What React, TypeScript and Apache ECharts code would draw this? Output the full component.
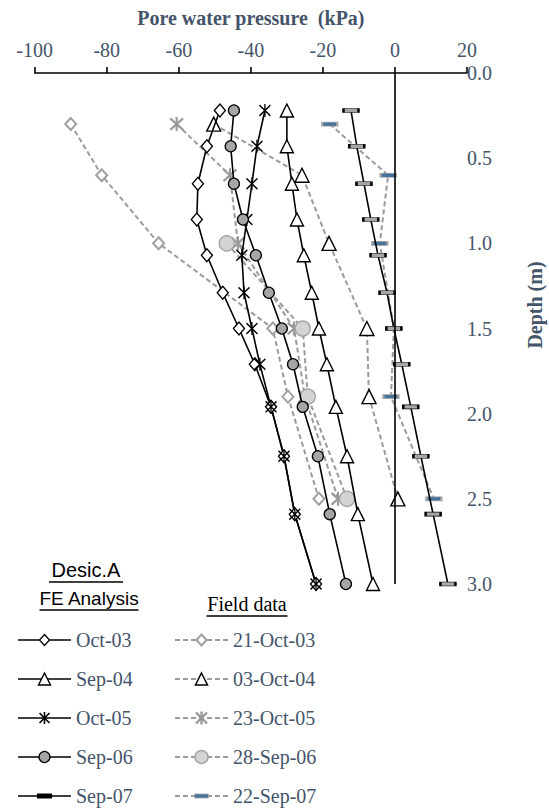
import React, { useEffect, useRef } from "react";
import * as echarts from "echarts";

// FE analysis (Desic.A) depths and pore water pressures (kPa)
const feDepths = [0.22, 0.43, 0.65, 0.86, 1.07, 1.29, 1.5, 1.71, 1.96, 2.25, 2.59, 3.0];
const feOct03 = [-48.6, -52.2, -54.7, -55.0, -52.2, -47.8, -43.3, -38.9, -34.4, -30.8, -27.8, -21.9];
const feSep04 = [-30.0, -30.0, -28.6, -27.2, -25.3, -23.1, -21.1, -18.9, -16.4, -13.3, -10.3, -6.1];
const feOct05 = [-36.1, -38.3, -39.7, -41.1, -42.5, -41.9, -39.7, -37.5, -34.4, -30.8, -27.8, -21.9];
const feSep06 = [-44.7, -45.6, -44.7, -42.2, -38.6, -35.0, -31.4, -28.3, -25.6, -21.4, -18.1, -13.6];
const feSep07 = [-12.2, -10.6, -8.6, -6.7, -4.7, -2.2, -0.3, 1.9, 4.4, 7.2, 10.6, 14.7];

// Field data
const fieldDepths = [0.3, 0.6, 1.0, 1.5, 1.9, 2.5];
const field21Oct03 = [-90.0, -81.4, -65.6, -33.9, -29.7, -21.1];
const field03Oct04 = [-50.3, -25.8, -18.3, -7.8, -7.2, 0.8];
const field23Oct05 = [-60.6, -45.8, -43.6, -28.0, -25.0, -15.8];
const field28Sep06 = [null, null, -46.7, -25.6, -24.2, -13.3];
const field22Sep07 = [-18.1, -1.9, -4.2, -0.3, -1.1, 10.8];

const xTicks = [-100, -80, -60, -40, -20, 0, 20];

const feNames = ["Oct-03", "Sep-04", "Oct-05", "Sep-06", "Sep-07"];
const fieldNames = ["21-Oct-03", "03-Oct-04", "23-Oct-05", "28-Sep-06", "22-Sep-07"];

const TEXT = "#44546A";
const DASH_GRAY = "#9b9b9b";
const SERIF = '"Liberation Serif", "Times New Roman", serif';

const starPath = "path://M0,1L10,11M0,11L10,1M5,0L5,12";

function pairs(xs: (number | null)[], ys: number[]) {
  const out: number[][] = [];
  xs.forEach((x, i) => {
    if (x !== null && x !== undefined) out.push([x, ys[i]]);
  });
  return out;
}

type MarkerKind = "diamond" | "triangle" | "star" | "circle" | "dash";
interface MarkerSpec {
  kind: MarkerKind;
  fill: string;
  stroke: string;
  strokeWidth: number;
  size: number | number[];
}

const feMarkers: MarkerSpec[] = [
  { kind: "diamond", fill: "#ffffff", stroke: "#000000", strokeWidth: 1.4, size: [11, 13] },
  { kind: "triangle", fill: "#ffffff", stroke: "#000000", strokeWidth: 1.4, size: [13, 13] },
  { kind: "star", fill: "none", stroke: "#000000", strokeWidth: 1.4, size: [11, 13] },
  { kind: "circle", fill: "#a6a6a6", stroke: "#000000", strokeWidth: 1.3, size: 11 },
  { kind: "dash", fill: "#a6a6a6", stroke: "#000000", strokeWidth: 1.3, size: [15, 4] },
];
const fieldMarkers: MarkerSpec[] = [
  { kind: "diamond", fill: "#ffffff", stroke: "#a0a0a0", strokeWidth: 2, size: [11, 12] },
  { kind: "triangle", fill: "#ffffff", stroke: "#000000", strokeWidth: 1.4, size: [14, 14] },
  { kind: "star", fill: "none", stroke: "#9a9a9a", strokeWidth: 2.2, size: [13, 14] },
  { kind: "circle", fill: "#d4d4d4", stroke: "#a6a6a6", strokeWidth: 1.5, size: 15 },
  { kind: "dash", fill: "#44729b", stroke: "#a6a6a6", strokeWidth: 1.2, size: [15, 4] },
];

// smaller marker versions for the legend
const feLegendMarkers: MarkerSpec[] = [
  { kind: "diamond", fill: "#ffffff", stroke: "#000000", strokeWidth: 1.3, size: [10, 11] },
  { kind: "triangle", fill: "#ffffff", stroke: "#000000", strokeWidth: 1.4, size: [12, 12] },
  { kind: "star", fill: "none", stroke: "#000000", strokeWidth: 1.6, size: [10, 12] },
  { kind: "circle", fill: "#a6a6a6", stroke: "#000000", strokeWidth: 1.3, size: 11 },
  { kind: "dash", fill: "#000000", stroke: "#000000", strokeWidth: 1.2, size: [14, 4] },
];
const fieldLegendMarkers: MarkerSpec[] = [
  { kind: "diamond", fill: "#ffffff", stroke: "#a0a0a0", strokeWidth: 2, size: [10, 11] },
  { kind: "triangle", fill: "#ffffff", stroke: "#000000", strokeWidth: 1.5, size: [12, 12] },
  { kind: "star", fill: "none", stroke: "#9a9a9a", strokeWidth: 2.4, size: [11, 13] },
  { kind: "circle", fill: "#d4d4d4", stroke: "#a6a6a6", strokeWidth: 1.5, size: 13 },
  { kind: "dash", fill: "#44729b", stroke: "#a6a6a6", strokeWidth: 1, size: [14, 4] },
];

function symbolOf(k: MarkerKind) {
  if (k === "star") return starPath;
  if (k === "dash") return "rect";
  return k;
}

function legendMarker(m: MarkerSpec, cx: number, cy: number): any {
  const w = Array.isArray(m.size) ? m.size[0] : m.size;
  const h = Array.isArray(m.size) ? m.size[1] : m.size;
  const style = { fill: m.fill, stroke: m.stroke, lineWidth: m.strokeWidth };
  if (m.kind === "diamond") {
    return { type: "polygon", shape: { points: [[cx, cy - h / 2], [cx + w / 2, cy], [cx, cy + h / 2], [cx - w / 2, cy]] }, style };
  }
  if (m.kind === "triangle") {
    return { type: "polygon", shape: { points: [[cx, cy - h / 2], [cx + w / 2, cy + h / 2], [cx - w / 2, cy + h / 2]] }, style };
  }
  if (m.kind === "circle") {
    return { type: "circle", shape: { cx, cy, r: w / 2 }, style };
  }
  if (m.kind === "dash") {
    return { type: "rect", shape: { x: cx - w / 2, y: cy - h / 2, width: w, height: h }, style };
  }
  const ls = { stroke: m.stroke, lineWidth: m.strokeWidth };
  return {
    type: "group",
    children: [
      { type: "line", shape: { x1: cx - w / 2, y1: cy - h / 2 + 1, x2: cx + w / 2, y2: cy + h / 2 - 1 }, style: ls },
      { type: "line", shape: { x1: cx - w / 2, y1: cy + h / 2 - 1, x2: cx + w / 2, y2: cy - h / 2 + 1 }, style: ls },
      { type: "line", shape: { x1: cx, y1: cy - h / 2, x2: cx, y2: cy + h / 2 }, style: ls },
    ],
  };
}

export default function App() {
  const ref = useRef<HTMLDivElement>(null);

  useEffect(() => {
    if (!ref.current) return;
    const chart = echarts.init(ref.current, undefined, { renderer: "svg" });

    const feValues = [feOct03, feSep04, feOct05, feSep06, feSep07];
    const fieldValues = [field21Oct03, field03Oct04, field23Oct05, field28Sep06, field22Sep07];

    const mkSeries = (name: string, data: number[][], m: MarkerSpec, dashed: boolean, z: number) => ({
      name,
      type: "line",
      data,
      symbol: symbolOf(m.kind),
      symbolSize: m.size,
      showAllSymbol: true,
      z,
      lineStyle: dashed
        ? { color: DASH_GRAY, width: 2, type: [5, 3] }
        : { color: "#000000", width: 1.6, type: "solid" },
      itemStyle: { color: m.fill === "none" ? "rgba(0,0,0,0)" : m.fill, borderColor: m.stroke, borderWidth: m.strokeWidth },
      emphasis: { disabled: true },
      silent: true,
    });

    const series: any[] = [];
    fieldValues.forEach((v, i) => series.push(mkSeries(fieldNames[i], pairs(v, fieldDepths), fieldMarkers[i], true, 2)));
    feValues.forEach((v, i) => series.push(mkSeries(feNames[i], pairs(v, feDepths), feMarkers[i], false, 3)));
    series[0].markLine = {
      silent: true,
      symbol: ["none", "none"],
      label: { show: false },
      lineStyle: { color: "#000000", width: 1.6, type: "solid" },
      data: [{ xAxis: 0 }],
    };

    // Legend (drawn)
    const graphic: any[] = [];
    const rowY = [640, 679, 718, 757, 796];
    const col1 = { x1: 18, x2: 71, tx: 76 };
    const col2 = { x1: 175, x2: 228, tx: 233 };
    rowY.forEach((y, i) => {
      graphic.push({ type: "line", shape: { x1: col1.x1, y1: y, x2: col1.x2, y2: y }, style: { stroke: "#000", lineWidth: 1.6 } });
      graphic.push(legendMarker(feLegendMarkers[i], (col1.x1 + col1.x2) / 2, y));
      graphic.push({ type: "text", x: col1.tx, y, style: { text: feNames[i], font: `20px ${SERIF}`, fill: TEXT, textVerticalAlign: "middle", textAlign: "left" } });
      graphic.push({ type: "line", shape: { x1: col2.x1, y1: y, x2: col2.x2, y2: y }, style: { stroke: DASH_GRAY, lineWidth: 2, lineDash: [5, 3] } });
      graphic.push(legendMarker(fieldLegendMarkers[i], (col2.x1 + col2.x2) / 2, y));
      graphic.push({ type: "text", x: col2.tx, y, style: { text: fieldNames[i], font: `20px ${SERIF}`, fill: TEXT, textVerticalAlign: "middle", textAlign: "left" } });
    });
    // Headers
    const hdr = (text: string, x: number, y: number, font: string, w: number) => {
      graphic.push({ type: "text", x, y, style: { text, font, fill: "#000", textAlign: "center", textVerticalAlign: "middle" } });
      graphic.push({ type: "line", shape: { x1: x - w / 2, y1: y + 12, x2: x + w / 2, y2: y + 12 }, style: { stroke: "#000", lineWidth: 1.3 } });
    };
    hdr("Desic.A", 86, 570, '20px "Liberation Sans", Arial, sans-serif', 74);
    hdr("FE Analysis", 89, 598, '19px "Liberation Sans", Arial, sans-serif', 99);
    hdr("Field data", 247, 604, `20px ${SERIF}`, 81);
    graphic.push({
      type: "text",
      x: 535,
      y: 305,
      rotation: Math.PI / 2,
      style: { text: "Depth (m)", font: `bold 20px ${SERIF}`, fill: TEXT, textAlign: "center", textVerticalAlign: "middle" },
    });

    chart.setOption({
      animation: false,
      grid: { left: 34.7, right: 82, top: 73, bottom: 226, containLabel: false },
      xAxis: {
        type: "value",
        position: "top",
        min: xTicks[0],
        max: xTicks[xTicks.length - 1],
        interval: 20,
        name: "Pore water pressure  (kPa)",
        nameLocation: "middle",
        nameGap: 45,
        nameTextStyle: { fontFamily: SERIF, fontSize: 20, fontWeight: "bold", color: TEXT },
        axisLine: { show: true, onZero: false, lineStyle: { color: "#000", width: 1.6 } },
        axisTick: { show: true, inside: false, length: 6, lineStyle: { color: "#000", width: 1.6 } },
        axisLabel: { color: TEXT, fontFamily: SERIF, fontSize: 20, margin: 13 },
        splitLine: { show: false },
      },
      yAxis: {
        type: "value",
        position: "right",
        inverse: true,
        min: 0,
        max: 3,
        interval: 0.5,
        axisLine: { show: false },
        axisTick: { show: false },
        axisLabel: { color: TEXT, fontFamily: SERIF, fontSize: 20, margin: 0, formatter: (v: number) => v.toFixed(1) },
        splitLine: { show: false },
      },
      series,
      graphic,
    });

    return () => chart.dispose();
  }, []);

  return <div ref={ref} style={{ position: "absolute", left: 0, top: 0, width: 549, height: 810 }} />;
}
